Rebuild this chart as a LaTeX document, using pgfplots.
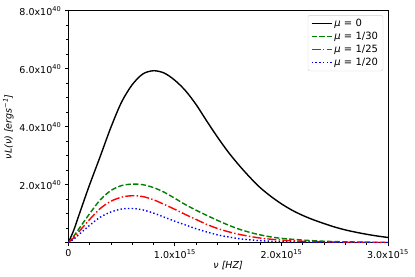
\documentclass[border=0pt]{standalone}
\usepackage{pgfplots}
\pgfplotsset{compat=1.18}
\usepackage{pgfplotstable}
\usetikzlibrary{calc}
\usepackage{fontspec}
\setmainfont{DejaVu Sans}
\definecolor{mplgreen}{rgb}{0,0.5,0}
\pgfplotstableread{
x y
0 0
0.05 0.42
0.1 0.95
0.15 1.48
0.2 2.0
0.3 2.98
0.4 3.98
0.5 4.85
0.6 5.45
0.7 5.82
0.8 5.93
0.9 5.85
1.0 5.6
1.1 5.24
1.2 4.76
1.3 4.19
1.4 3.64
1.5 3.13
1.6 2.68
1.7 2.27
1.8 1.9
1.9 1.6
2.0 1.34
2.1 1.12
2.2 0.94
2.3 0.79
2.4 0.66
2.5 0.54
2.6 0.44
2.7 0.36
2.8 0.29
2.9 0.23
3.0 0.18
}\muzero
\pgfplotstableread{
x y
0 0
0.05 0.22
0.1 0.48
0.2 1.0
0.3 1.48
0.4 1.80
0.5 1.97
0.6 2.02
0.7 2.0
0.8 1.9
0.9 1.74
1.0 1.53
1.1 1.31
1.2 1.12
1.3 0.94
1.4 0.77
1.5 0.61
1.6 0.47
1.7 0.36
1.8 0.27
1.9 0.2
2.0 0.15
2.2 0.09
2.4 0.05
2.6 0.03
2.8 0.02
3.0 0.01
}\muthirty
\pgfplotstableread{
x y
0 0
0.05 0.17
0.1 0.38
0.2 0.8
0.3 1.18
0.4 1.43
0.5 1.57
0.6 1.62
0.7 1.59
0.8 1.48
0.9 1.32
1.0 1.15
1.1 0.97
1.2 0.8
1.3 0.63
1.4 0.49
1.5 0.38
1.6 0.29
1.7 0.22
1.8 0.16
1.9 0.12
2.0 0.09
2.2 0.05
2.4 0.03
2.6 0.015
2.8 0.008
3.0 0.004
}\mutwentyfive
\pgfplotstableread{
x y
0 0
0.05 0.12
0.1 0.28
0.2 0.6
0.3 0.88
0.4 1.06
0.5 1.16
0.6 1.18
0.7 1.13
0.8 1.02
0.9 0.88
1.0 0.74
1.1 0.61
1.2 0.48
1.3 0.37
1.4 0.27
1.5 0.2
1.6 0.14
1.7 0.1
1.8 0.07
1.9 0.05
2.0 0.035
2.2 0.02
2.5 0.008
3.0 0.002
}\mutwenty
\begin{document}
\begin{tikzpicture}
\begin{axis}[
  name=ax,
  scale only axis,
  width=319.7pt, height=232pt,
  xmin=0, xmax=3, ymin=0, ymax=8,
  axis line style={black, line width=0.8pt},
  tick pos=left,
  tick align=outside,
  major tick length=3.5pt,
  minor tick length=2pt,
  tick style={black, line width=0.8pt},
  xtick={0,1,2,3},
  xticklabels={0, 1.0x10\textsuperscript{15}, 2.0x10\textsuperscript{15}, 3.0x10\textsuperscript{15}},
  minor x tick num=4,
  ytick={0,2,4,6,8},
  yticklabels={, 2.0x10\textsuperscript{40}, 4.0x10\textsuperscript{40}, 6.0x10\textsuperscript{40}, 8.0x10\textsuperscript{40}},
  minor y tick num=3,
  xticklabel style={font=\fontsize{9.5}{11}\selectfont},
  yticklabel style={font=\fontsize{9.5}{11}\selectfont},
  xlabel={\textit{ν [HZ]}},
  ylabel={\textit{νL(ν) [ergs}\textsuperscript{\textit{−1}}\textit{]}},
  every axis x label/.style={at={($(rel axis cs:0.5,0)+(0,-23.3pt)$)}, anchor=center, font=\fontsize{9.5}{11}\selectfont},
  every axis y label/.style={at={($(rel axis cs:0,0.5)+(-60pt,0)$)}, anchor=center, rotate=90, font=\fontsize{9.5}{11}\selectfont},
  legend cell align=left,
  legend style={at={(0.985,0.981)}, anchor=north east, draw=black!20, rounded corners=2pt},
  legend image code/.code={\draw[#1, line width=1.4pt] (0pt,0pt) -- (20pt,0pt);},
]
\addplot[color=black, line width=1.4pt, smooth] table {\muzero};
\addlegendentry{\textit{μ} = 0}
\addplot[color=mplgreen, line width=1.4pt, dash pattern=on 5.3pt off 2.3pt, smooth] table {\muthirty};
\addlegendentry{\textit{μ} = 1/30}
\addplot[color=red, line width=1.4pt, dash pattern=on 9pt off 2.3pt on 1.4pt off 2.3pt, smooth] table {\mutwentyfive};
\addlegendentry{\textit{μ} = 1/25}
\addplot[color=blue, line width=1.4pt, dash pattern=on 1.4pt off 2.3pt, smooth] table {\mutwenty};
\addlegendentry{\textit{μ} = 1/20}
\end{axis}
\path (ax.south west) ++(-68.3pt,-34.3pt) coordinate (bl);
\path (ax.north east) ++(27pt,10.7pt) coordinate (tr);
\pgfresetboundingbox
\useasboundingbox (bl) rectangle (tr);
\end{tikzpicture}
\end{document}
